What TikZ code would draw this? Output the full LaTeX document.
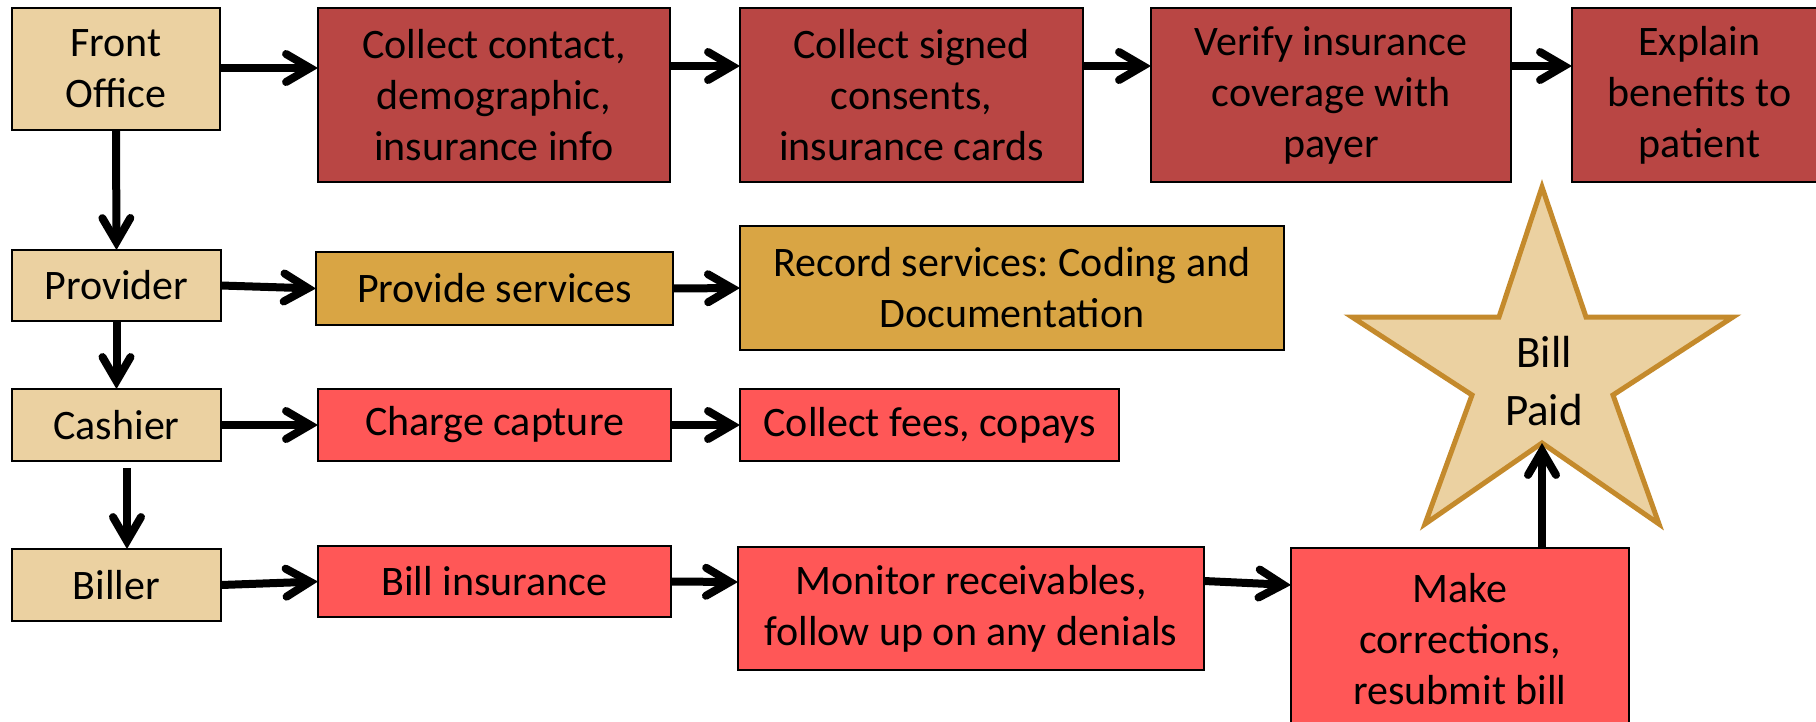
\documentclass[tikz,border=0pt]{standalone}
\usepackage{fontspec}
\setmainfont{Carlito}
\frenchspacing
\usetikzlibrary{arrows.meta,calc}
\definecolor{tanfill}{HTML}{EBD1A1}
\definecolor{darkredfill}{HTML}{B94644}
\definecolor{goldfill}{HTML}{D9A544}
\definecolor{lightredfill}{HTML}{FF5757}
\definecolor{starline}{HTML}{C48A2C}
\begin{document}
\begin{tikzpicture}[x=1pt,y=-1pt,
  box/.style={draw=black,line width=2pt,inner sep=0pt,outer sep=0pt,anchor=north west,align=center,
    font=\fontsize{42}{51}\selectfont},
  rolebox/.style={box,fill=tanfill},
  frontbox/.style={box,fill=darkredfill},
  provbox/.style={box,fill=goldfill},
  billbox/.style={box,fill=lightredfill},
  arr/.style={line width=8pt,-{Straight Barb[length=24pt,width=28pt,line cap=round,line join=miter]}},
  starshape/.style={draw=starline,fill=tanfill,line width=5pt,miter limit=20}]
\useasboundingbox (0,0) rectangle (1816,721);
\clip (0,0) rectangle (1816,721);
% role column
\node[rolebox,minimum width=208pt,minimum height=122pt] (fo) at (12,8) {Front\\Office};
\node[rolebox,minimum width=209pt,minimum height=71pt] (prov) at (12,250) {Provider};
\node[rolebox,minimum width=209pt,minimum height=72pt] (cash) at (12,389) {Cashier};
\node[rolebox,minimum width=209pt,minimum height=72pt] (biller) at (12,549) {Biller};
% front office row
\node[frontbox,minimum width=352pt,minimum height=174pt] (cc) at (318,8) {Collect contact,\\demographic,\\insurance info};
\node[frontbox,minimum width=343pt,minimum height=174pt] (cs) at (740,8) {Collect signed\\consents,\\insurance cards};
\node[frontbox,minimum width=360pt,minimum height=174pt] (vi) at (1151,8) {Verify insurance\\coverage with\\payer};
\node[frontbox,minimum width=255pt,minimum height=174pt] (ex) at (1572,8) {Explain\\benefits to\\patient};
% provider row
\node[provbox,minimum width=357pt,minimum height=73pt] (ps) at (316,252) {Provide services};
\node[provbox,minimum width=544pt,minimum height=124pt] (rs) at (740,226) {Record services: Coding and\\Documentation};
% cashier row
\node[billbox,minimum width=353pt,minimum height=72pt] (ch) at (318,389) {Charge capture};
\node[billbox,minimum width=379pt,minimum height=72pt] (cf) at (740,389) {Collect fees, copays};
% biller row
\node[billbox,minimum width=353pt,minimum height=71pt] (bi) at (318,546) {Bill insurance};
\node[billbox,minimum width=466pt,minimum height=123pt] (mon) at (738,547) {Monitor receivables,\\follow up on any denials};
\node[billbox,minimum width=338pt,minimum height=182pt] (mk) at (1291,548) {Make\\corrections,\\resubmit bill};
% star
\draw[starshape] (1542,187) -- (1586,317) -- (1733,317) -- (1613,395) -- (1659,524)
  -- (1542,443) -- (1425,524) -- (1472,395) -- (1352,317) -- (1499,317) -- cycle;
\coordinate (sb) at (1542,443);
\node[align=center,font=\fontsize{45}{58}\selectfont,inner sep=0pt] (paid) at (1544,381) {Bill\\Paid};
% arrows
\draw[arr] ([yshift=1pt]fo.east) -- ([yshift=27pt]cc.west);
\draw[arr] ([yshift=29pt]cc.east) -- ([yshift=29pt]cs.west);
\draw[arr] ([yshift=29pt]cs.east) -- ([yshift=29pt]vi.west);
\draw[arr] ([yshift=29pt]vi.east) -- ([yshift=29pt]ex.west);
\draw[arr] (fo.south) -- (prov.north);
\draw[arr] (prov.south) -- (cash.north);
\draw[arr] ([xshift=10.5pt,yshift=-7pt]cash.south) -- ([xshift=10.5pt]biller.north);
\draw[arr] (prov.east) -- (ps.west);
\draw[arr] (ps.east) -- (rs.west);
\draw[arr] (cash.east) -- (ch.west);
\draw[arr] (ch.east) -- (cf.west);
\draw[arr] (biller.east) -- (bi.west);
\draw[arr] (bi.east) -- ([yshift=26.5pt]mon.west);
\draw[arr] ([yshift=27.5pt]mon.east) -- ([yshift=54pt]mk.west);
\draw[arr] (sb |- mk.north) -- (sb);
\end{tikzpicture}
\end{document}
